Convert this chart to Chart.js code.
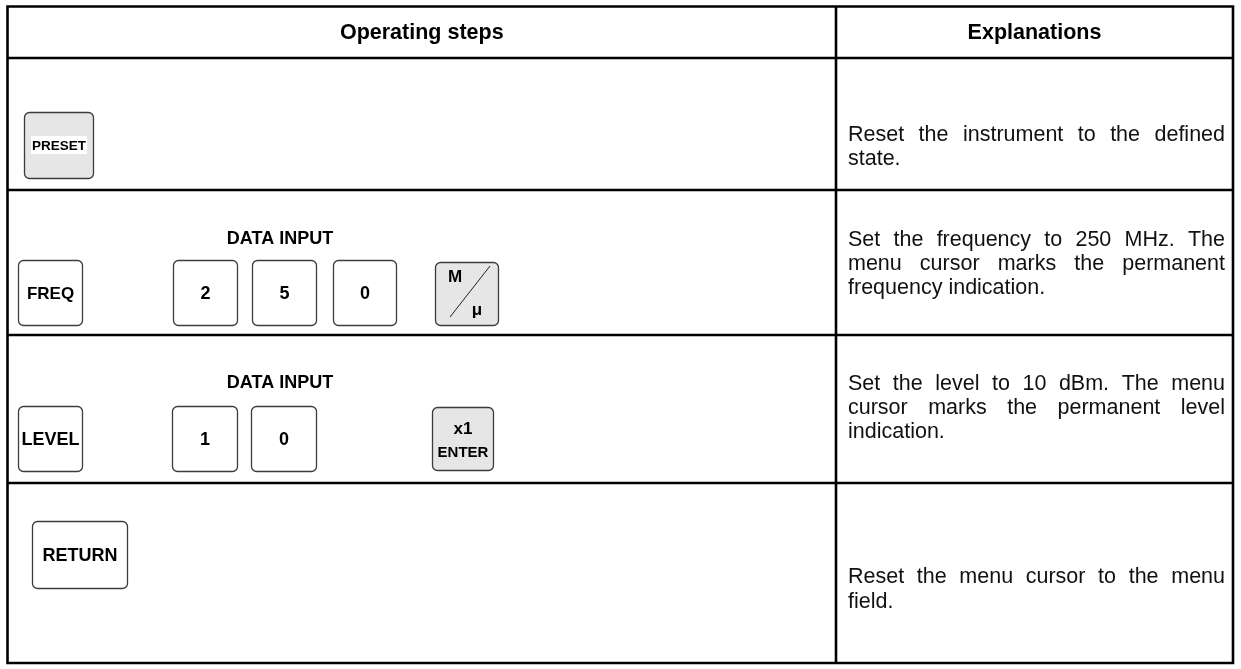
<!DOCTYPE html>
<html>
<head>
<meta charset="utf-8">
<script src="https://cdn.jsdelivr.net/npm/chart.js@4.4.1/dist/chart.umd.min.js"></script>
<style>
  html, body { margin: 0; padding: 0; background: #ffffff; }
  #wrap { width: 1241px; height: 669px; position: relative; }
</style>
</head>
<body>
<div id="wrap"><canvas id="c"></canvas></div>
<script>
// ---------- content (data) ----------
const headers = ["Operating steps", "Explanations"];
const groupLabels = ["", "DATA INPUT", "DATA INPUT", ""];
const keysPreset = ["PRESET"];
const keysFreq = ["FREQ", "2", "5", "0", "M/μ"];
const keysLevel = ["LEVEL", "1", "0", "x1/ENTER"];
const keysReturn = ["RETURN"];
const explPreset = ["Reset the instrument to the defined", "state."];
const explFreq = ["Set the frequency to 250 MHz. The", "menu cursor marks the permanent", "frequency indication."];
const explLevel = ["Set the level to 10 dBm. The menu", "cursor marks the permanent level", "indication."];
const explReturn = ["Reset the menu cursor to the menu", "field."];

const stepKeys = [keysPreset, keysFreq, keysLevel, keysReturn];
const explanations = [explPreset, explFreq, explLevel, explReturn];

// ---------- layout & style (not data) ----------
const FONT = '"Liberation Sans", Arial, Helvetica, sans-serif';
const layout = {
  frame: { left: 7.5, right: 1233, top: 6.5, bottom: 663 },
  divider: 836,
  rowLines: [58, 190, 335, 483],
  lineW: 2.6,
  headerY: 31,
  textLeft: 848, textRight: 1225,
  bodySize: 21.5, headSize: 21.5,
  explY: [[133, 157], [238, 262, 286], [382, 406, 430], [575, 600]],
  groupY: [0, 238, 382],
  groupX: 280,
  groupSize: 18
};
const keyGeom = [
  [ { x0: 24, x1: 93, y0: 112, y1: 178, fill: '#e6e6e6', size: 13.5, whiteBg: true } ],
  [ { x0: 18, x1: 82, y0: 260, y1: 325, fill: '#ffffff', size: 17 },
    { x0: 173, x1: 237, y0: 260, y1: 325, fill: '#ffffff', size: 18 },
    { x0: 252, x1: 316, y0: 260, y1: 325, fill: '#ffffff', size: 18 },
    { x0: 333, x1: 396, y0: 260, y1: 325, fill: '#ffffff', size: 18 },
    { x0: 435, x1: 498, y0: 262, y1: 325, fill: '#e6e6e6', size: 17, split: 'diag' } ],
  [ { x0: 18, x1: 82, y0: 406, y1: 471, fill: '#ffffff', size: 18 },
    { x0: 172, x1: 237, y0: 406, y1: 471, fill: '#ffffff', size: 18 },
    { x0: 251, x1: 316, y0: 406, y1: 471, fill: '#ffffff', size: 18 },
    { x0: 432, x1: 493, y0: 407, y1: 470, fill: '#e6e6e6', size: 17, split: 'stack' } ],
  [ { x0: 32, x1: 127, y0: 521, y1: 588, fill: '#ffffff', size: 18 } ]
];

function rr(ctx, x, y, w, h, r) {
  ctx.beginPath();
  ctx.moveTo(x + r, y);
  ctx.lineTo(x + w - r, y);
  ctx.arcTo(x + w, y, x + w, y + r, r);
  ctx.lineTo(x + w, y + h - r);
  ctx.arcTo(x + w, y + h, x + w - r, y + h, r);
  ctx.lineTo(x + r, y + h);
  ctx.arcTo(x, y + h, x, y + h - r, r);
  ctx.lineTo(x, y + r);
  ctx.arcTo(x, y, x + r, y, r);
  ctx.closePath();
}

function drawJustified(ctx, line, x0, x1, y, justify) {
  const words = line.split(' ');
  if (!justify || words.length < 2) { ctx.fillText(line, x0, y); return; }
  const widths = words.map(w => ctx.measureText(w).width);
  const sum = widths.reduce((a, b) => a + b, 0);
  const gap = (x1 - x0 - sum) / (words.length - 1);
  let x = x0;
  words.forEach((w, i) => { ctx.fillText(w, x, y); x += widths[i] + gap; });
}

const tablePlugin = {
  id: 'tablePlugin',
  afterDraw(chart) {
    const ctx = chart.ctx;
    const sx = v => chart.scales.x.getPixelForValue(v);
    const sy = v => chart.scales.y.getPixelForValue(v);
    ctx.save();
    ctx.fillStyle = '#ffffff';
    ctx.fillRect(0, 0, chart.width, chart.height);

    // grid lines
    ctx.strokeStyle = '#000000';
    ctx.lineWidth = layout.lineW;
    const f = layout.frame;
    ctx.beginPath();
    ctx.rect(sx(f.left), sy(f.top), sx(f.right) - sx(f.left), sy(f.bottom) - sy(f.top));
    ctx.stroke();
    layout.rowLines.forEach(y => {
      ctx.beginPath(); ctx.moveTo(sx(f.left), sy(y)); ctx.lineTo(sx(f.right), sy(y)); ctx.stroke();
    });
    ctx.beginPath(); ctx.moveTo(sx(layout.divider), sy(f.top)); ctx.lineTo(sx(layout.divider), sy(f.bottom)); ctx.stroke();

    // headers
    ctx.fillStyle = '#000000';
    ctx.textBaseline = 'alphabetic';
    ctx.textAlign = 'center';
    ctx.font = 'bold ' + layout.headSize + 'px ' + FONT;
    const capOff = 0.36;
    const hb = layout.headerY + capOff * layout.headSize;
    ctx.fillText(headers[0], sx((f.left + layout.divider) / 2), sy(hb));
    ctx.fillText(headers[1], sx((layout.divider + f.right) / 2), sy(hb));

    // explanations
    ctx.textAlign = 'left';
    ctx.font = layout.bodySize + 'px ' + FONT;
    ctx.fillStyle = '#111111';
    explanations.forEach((lines, r) => {
      lines.forEach((ln, i) => {
        const yb = layout.explY[r][i] + capOff * layout.bodySize;
        drawJustified(ctx, ln, sx(layout.textLeft), sx(layout.textRight), sy(yb), i < lines.length - 1);
      });
    });

    // group labels
    ctx.fillStyle = '#000000';
    ctx.textAlign = 'center';
    ctx.font = 'bold ' + layout.groupSize + 'px ' + FONT;
    groupLabels.forEach((g, r) => {
      if (!g) return;
      ctx.fillText(g, sx(layout.groupX), sy(layout.groupY[r] + capOff * layout.groupSize));
    });

    // keys
    stepKeys.forEach((keys, r) => {
      keys.forEach((label, k) => {
        const g = keyGeom[r][k];
        const x0 = sx(g.x0), x1 = sx(g.x1), y0 = sy(g.y0), y1 = sy(g.y1);
        rr(ctx, x0 + 0.5, y0 + 0.5, x1 - x0, y1 - y0, 5);
        ctx.fillStyle = g.fill; ctx.fill();
        ctx.strokeStyle = '#3c3c3c'; ctx.lineWidth = 1.3; ctx.stroke();
        const cx = (x0 + x1) / 2 + 0.5, cy = (y0 + y1) / 2;
        ctx.fillStyle = '#000000';
        ctx.textAlign = 'center';
        if (g.split === 'diag') {
          const parts = label.split('/');
          ctx.font = 'bold ' + g.size + 'px ' + FONT;
          ctx.fillText(parts[0], x0 + 20, y0 + 14 + capOff * g.size);
          ctx.fillText(parts[1], x0 + 42, y0 + 47 + capOff * g.size);
          ctx.beginPath();
          ctx.strokeStyle = '#222222'; ctx.lineWidth = 1;
          ctx.moveTo(x0 + 15, y0 + 55); ctx.lineTo(x0 + 55, y0 + 4);
          ctx.stroke();
        } else if (g.split === 'stack') {
          const parts = label.split('/');
          ctx.font = 'bold ' + g.size + 'px ' + FONT;
          ctx.fillText(parts[0], cx, y0 + 21 + capOff * g.size);
          ctx.font = 'bold 15px ' + FONT;
          ctx.fillText(parts[1], cx, y0 + 45 + capOff * 15);
        } else {
          ctx.font = 'bold ' + g.size + 'px ' + FONT;
          if (g.whiteBg) {
            const w = ctx.measureText(label).width;
            ctx.fillStyle = '#ffffff';
            ctx.fillRect(cx - w / 2 - 1, cy - 9, w + 2, 18);
            ctx.fillStyle = '#000000';
          }
          ctx.fillText(label, cx, cy + capOff * g.size);
        }
      });
    });
    ctx.restore();
  }
};

new Chart(document.getElementById('c').getContext('2d'), {
  type: 'scatter',
  data: { datasets: [{ data: [] }] },
  options: {
    responsive: true,
    maintainAspectRatio: false,
    animation: false,
    events: [],
    layout: { padding: 0 },
    plugins: { legend: { display: false }, tooltip: { enabled: false } },
    scales: {
      x: { type: 'linear', min: 0, max: 1241, display: false },
      y: { type: 'linear', min: 0, max: 669, reverse: true, display: false }
    }
  },
  plugins: [tablePlugin]
});
</script>
</body>
</html>
